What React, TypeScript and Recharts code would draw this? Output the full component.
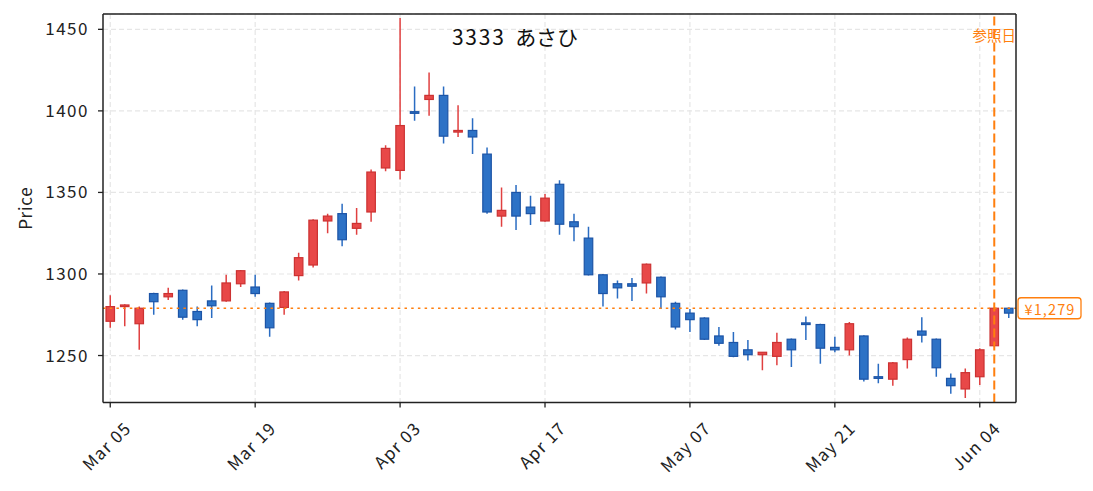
import { ComposedChart, Bar, XAxis, YAxis, CartesianGrid, ReferenceLine } from 'recharts';

const dates = [
  'Mar 05', 'Mar 06', 'Mar 07', 'Mar 08', 'Mar 11', 'Mar 12', 'Mar 13', 'Mar 14', 'Mar 15', 'Mar 18',
  'Mar 19', 'Mar 21', 'Mar 22', 'Mar 25', 'Mar 26', 'Mar 27', 'Mar 28', 'Mar 29', 'Apr 01', 'Apr 02',
  'Apr 03', 'Apr 04', 'Apr 05', 'Apr 08', 'Apr 09', 'Apr 10', 'Apr 11', 'Apr 12', 'Apr 15', 'Apr 16',
  'Apr 17', 'Apr 18', 'Apr 19', 'Apr 22', 'Apr 23', 'Apr 24', 'Apr 25', 'Apr 26', 'May 01', 'May 02',
  'May 07', 'May 08', 'May 09', 'May 10', 'May 13', 'May 14', 'May 15', 'May 16', 'May 17', 'May 20',
  'May 21', 'May 22', 'May 23', 'May 24', 'May 27', 'May 28', 'May 29', 'May 30', 'May 31', 'Jun 03',
  'Jun 04', 'Jun 05', 'Jun 06',
];

const opens = [
  1271, 1280, 1269.5, 1288, 1286, 1290, 1277, 1283.5, 1283.5, 1294,
  1292, 1282, 1279.5, 1299, 1305.5, 1332.5, 1337, 1328, 1338, 1365,
  1363.5, 1399.5, 1407, 1409.5, 1387, 1388, 1373.5, 1335.5, 1350, 1341,
  1332.5, 1355, 1332, 1322, 1299.5, 1294, 1294, 1294.5, 1298, 1282,
  1276, 1273, 1262, 1258, 1253.5, 1250.5, 1249.5, 1260, 1270, 1269,
  1255, 1253.5, 1262, 1237, 1235.5, 1247.5, 1265, 1260, 1236, 1229.5,
  1237, 1256, 1279,
];

const highs = [
  1287, 1281.5, 1280, 1288.5, 1291.5, 1290.5, 1280, 1293, 1299.5, 1302.5,
  1299.5, 1282.5, 1289.5, 1313, 1333.5, 1337, 1343, 1340.5, 1364, 1379,
  1457, 1415, 1423.5, 1415, 1403.5, 1395.5, 1377.5, 1353, 1354.5, 1348,
  1349, 1357.5, 1337, 1329, 1300, 1296, 1297.5, 1306.5, 1298.5, 1283,
  1278.5, 1273.5, 1267.5, 1264.5, 1259.5, 1252, 1264, 1260.5, 1274, 1269.5,
  1261.5, 1270.5, 1262.5, 1245, 1246, 1261, 1273.5, 1260.5, 1239, 1242,
  1254.5, 1279.5, 1279.5,
];

const lows = [
  1267, 1268, 1253.5, 1275, 1284, 1272, 1268, 1273, 1283, 1292,
  1286, 1261.5, 1275, 1296, 1304, 1325, 1317, 1324, 1332, 1363,
  1358, 1394, 1397, 1380, 1384, 1373.5, 1337, 1329, 1327, 1330,
  1332, 1324, 1320, 1299, 1280, 1285, 1283.5, 1288, 1278.5, 1266,
  1264.5, 1259.5, 1256, 1249, 1247, 1241, 1244, 1243, 1259.5, 1245,
  1252, 1250, 1234, 1233, 1231.5, 1242, 1258, 1237, 1226.5, 1224,
  1232, 1255.5, 1273,
];

const closes = [
  1280, 1281, 1279, 1283, 1288, 1273.5, 1272, 1280.5, 1294.5, 1302,
  1288, 1267, 1289, 1310, 1333, 1335.5, 1321, 1331, 1362.5, 1377,
  1391, 1398.5, 1409.5, 1384.5, 1388, 1384, 1338, 1339, 1335.5, 1337,
  1346.5, 1330.5, 1329, 1299.5, 1288, 1291.5, 1292.5, 1306, 1286, 1267.5,
  1272, 1260, 1257.5, 1249.5, 1250.5, 1252, 1258, 1253.5, 1269, 1254.5,
  1253.5, 1269.5, 1235.5, 1236, 1245.5, 1260, 1262.5, 1242.5, 1231.5, 1239.5,
  1253.5, 1279, 1276,
];

const yDomain = [1221.2, 1459.4];
const yTicks = [1250, 1300, 1350, 1400, 1450];
const gridDates = ['Mar 05', 'Mar 19', 'Apr 03', 'Apr 17', 'May 07', 'May 21', 'Jun 04'];
const refDate = 'Jun 05';
const refPrice = 1279;
const titleCode = '3333';
const titleName = 'あさひ';

const FONT = '"Noto Sans CJK JP", "Noto Sans", sans-serif';
const INK = '#222';
const ORANGE = '#ff7f0e';
const UP = { fill: '#e84848', stroke: '#cc3232', wick: '#e04040' };
const DOWN = { fill: '#2d72c6', stroke: '#1c54a6', wick: '#2a6cc2' };

const data = dates.map((date, i) => ({
  date,
  open: opens[i],
  high: highs[i],
  low: lows[i],
  close: closes[i],
  range: [lows[i], highs[i]],
}));

// vertical grid only at the labelled dates, centred in each band
const verticalGen = ({ xAxis, offset }: any) => {
  const s = xAxis?.scale;
  try {
    const map = typeof s === 'function' ? (v: string) => s(v) : (v: string) => s.map(v);
    const bw = typeof s?.bandwidth === 'function' ? s.bandwidth() : 0;
    const pts = gridDates.map(d => map(d) + bw / 2);
    if (pts.every(p => Number.isFinite(p))) return pts;
  } catch (e) {
    // fall through
  }
  const band = offset.width / dates.length;
  return gridDates.map(d => offset.left + (dates.indexOf(d) + 0.5) * band);
};

function Candle(props: any) {
  const { x, y, width, height, payload } = props;
  const { open, close, high, low } = payload;
  const perUnit = high === low ? 0 : height / (high - low);
  const toY = (v: number) => y + (high - v) * perUnit;
  const c = close >= open ? UP : DOWN;
  const cx = x + width / 2;
  const top = toY(Math.max(open, close));
  const bottom = toY(Math.min(open, close));
  return (
    <g>
      <line x1={cx} x2={cx} y1={y} y2={y + height} stroke={c.wick} strokeWidth={1.5} />
      <rect x={x} y={top} width={width} height={Math.max(bottom - top, 1.5)} fill={c.fill} stroke={c.stroke} strokeWidth={1.2} />
    </g>
  );
}

function DateTick({ x, y, payload }: any) {
  const ax = x + 22;
  const ay = y + 20;
  return (
    <text
      x={ax}
      y={ay}
      transform={`rotate(-45 ${ax} ${ay})`}
      textAnchor="end"
      fontSize={17}
      letterSpacing={1.2}
      fill={INK}
      fontFamily={FONT}
    >
      {payload.value}
    </text>
  );
}

function PriceTag({ viewBox }: any) {
  const x = viewBox.x + viewBox.width + 2;
  const y = viewBox.y;
  return (
    <g>
      <rect x={x} y={y - 10.5} width={63} height={21} rx={3} fill="#fff" stroke={ORANGE} strokeWidth={1.3} />
      <text x={x + 32} y={y} textAnchor="middle" dominantBaseline="central" fontSize={14.5} letterSpacing={1.1} fill={ORANGE} fontFamily={FONT}>
        ¥{refPrice.toLocaleString('en-US')}
      </text>
    </g>
  );
}

function RefTag({ viewBox }: any) {
  return (
    <text x={viewBox.x} y={viewBox.y + 20} textAnchor="middle" dominantBaseline="central" fontSize={14.5} fill={ORANGE} fontFamily={FONT}>
      参照日
    </text>
  );
}

function PriceLabel({ viewBox }: any) {
  const cx = 24;
  const cy = viewBox.y + viewBox.height / 2;
  return (
    <text x={cx} y={cy} transform={`rotate(-90 ${cx} ${cy})`} textAnchor="middle" dominantBaseline="central" fontSize={17} letterSpacing={0.7} fill={INK} fontFamily={FONT}>
      Price
    </text>
  );
}

export default function App() {
  return (
    <div style={{ position: 'absolute', left: 0, top: 0, width: 1093, height: 491, background: '#fff', fontFamily: FONT }}>
      <ComposedChart width={1093} height={491} data={data} margin={{ top: 14, right: 77, bottom: 0, left: 0 }}>
        <CartesianGrid
          stroke="#e6e6e6"
          strokeDasharray="5 3"
          strokeWidth={1.2}
          verticalCoordinatesGenerator={verticalGen}
        />
        <XAxis
          dataKey="date"
          interval={9}
          height={88.5}
          tick={<DateTick />}
          tickSize={5}
          tickLine={{ stroke: INK, strokeWidth: 1.3 }}
          axisLine={{ stroke: INK, strokeWidth: 1.5 }}
        />
        <YAxis
          type="number"
          domain={yDomain}
          ticks={yTicks}
          allowDataOverflow
          width={103}
          tickSize={5}
          tickMargin={9}
          tick={{ fontSize: 17, fill: INK, fontFamily: FONT, letterSpacing: 1.5 }}
          tickLine={{ stroke: INK, strokeWidth: 1.3 }}
          axisLine={{ stroke: INK, strokeWidth: 1.5 }}
          label={<PriceLabel />}
        />
        <Bar dataKey="range" barSize={8.5} shape={<Candle />} isAnimationActive={false} />
        <ReferenceLine y={refPrice} stroke={ORANGE} strokeWidth={1.6} strokeDasharray="2.5 4.2" label={<PriceTag />} />
        <ReferenceLine x={refDate} stroke={ORANGE} strokeWidth={2} strokeDasharray="9 4" label={<RefTag />} />
        {/* top and right spines of the frame */}
        <ReferenceLine y={yDomain[1]} stroke={INK} strokeWidth={1.5} />
        <ReferenceLine x={dates[dates.length - 1]} position="end" stroke={INK} strokeWidth={1.5} />
      </ComposedChart>
      <div
        style={{
          position: 'absolute',
          left: 515,
          top: 25,
          transform: 'translateX(-50%)',
          fontSize: 21,
          lineHeight: '22px',
          whiteSpace: 'pre',
          color: '#111',
        }}
      >
        <span style={{ letterSpacing: 1.8 }}>{titleCode}</span>
        {'  '}
        {titleName}
      </div>
    </div>
  );
}
